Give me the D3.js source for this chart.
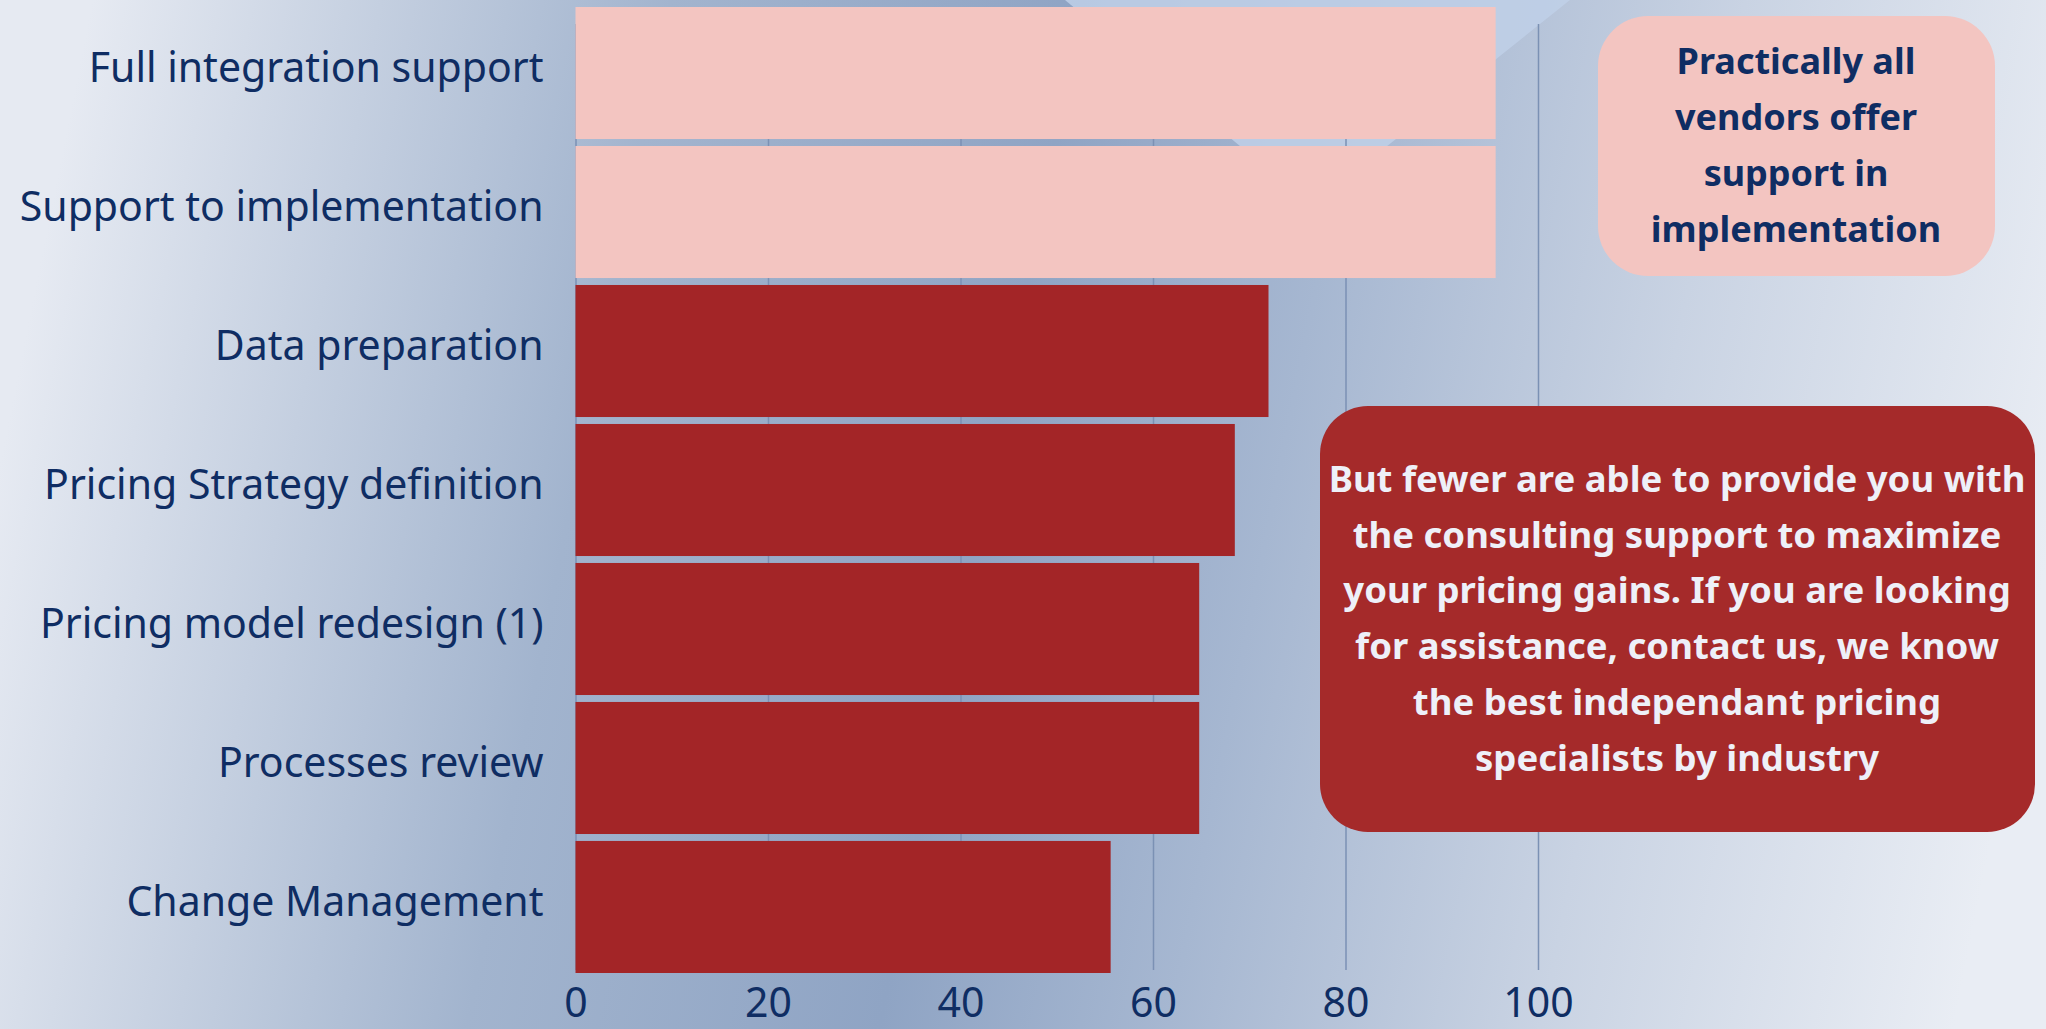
<!DOCTYPE html>
<html>
<head>
<meta charset="utf-8">
<script src="https://cdn.jsdelivr.net/npm/d3@7"></script>
<style>
  html, body { margin: 0; padding: 0; overflow: hidden; }
  svg { display: block; }
</style>
</head>
<body>
<div class="container"></div>
<script>
const categories = [
    "Full integration support",
    "Support to implementation",
    "Data preparation",
    "Pricing Strategy definition",
    "Pricing model redesign (1)",
    "Processes review",
    "Change Management"
]
const values = [95.6, 95.6, 72.0, 68.5, 64.8, 64.8, 55.6]
const highlighted = ["Full integration support", "Support to implementation"]
const tickValues = [0, 20, 40, 60, 80, 100]
const noteTop = ["Practically all", "vendors offer", "support in", "implementation"]
const noteBottom = [
    "But fewer are able to provide you with",
    "the consulting support to maximize",
    "your pricing gains. If you are looking",
    "for assistance, contact us, we know",
    "the best independant pricing",
    "specialists by industry"
]

const w = 2046
const h = 1029
const navy = "#0f2d63"
const font = "'Noto Sans', sans-serif"

const svg = d3.select(".container")
              .append("svg")
              .attr("width", w)
              .attr("height", h)

// background gradient
const defs = svg.append("defs")
const grad = defs.append("linearGradient")
                 .attr("id", "bg")
                 .attr("x1", "0").attr("y1", "0.45")
                 .attr("x2", "1").attr("y2", "0.55")
const stops = [[0, "#e6eaf2"], [0.28, "#a2b4ce"], [0.48, "#8fa4c4"], [0.62, "#a6b7d1"], [0.8, "#c9d3e3"], [1, "#e9edf4"]]
grad.selectAll("stop")
    .data(stops)
    .enter()
    .append("stop")
    .attr("offset", d => d[0])
    .attr("stop-color", d => d[1])

svg.append("rect")
   .attr("width", w)
   .attr("height", h)
   .attr("fill", "url(#bg)")

// light decorative shape near the top
svg.append("path")
   .attr("d", "M1065,0 L1570,0 L1312,206 Z")
   .attr("fill", "#bfd0e8")
   .attr("opacity", 0.85)

const xScale = d3.scaleLinear()
                 .domain([0, 100])
                 .range([575.5, 1538])

const yScale = d3.scaleBand()
                 .domain(categories)
                 .range([7, 973])
                 .paddingInner(0.05)
                 .paddingOuter(0)

// gridlines
const grid = svg.append("g")
                .attr("transform", "translate(0, 970)")
                .call(d3.axisBottom(xScale).tickValues(tickValues).tickSize(-946).tickFormat(""))
grid.select(".domain").remove()
grid.selectAll("line")
    .attr("stroke", "#7b91b4")
    .attr("stroke-width", 1.5)

// bars
svg.selectAll(".bar")
   .data(categories)
   .enter()
   .append("rect")
   .attr("class", "bar")
   .attr("x", xScale(0))
   .attr("y", d => yScale(d))
   .attr("width", (d, i) => xScale(values[i]) - xScale(0))
   .attr("height", yScale.bandwidth())
   .attr("fill", d => highlighted.includes(d) ? "#f3c5c1" : "#a32527")

// x axis labels
const xAxis = svg.append("g")
                 .attr("transform", "translate(0, 975)")
                 .call(d3.axisBottom(xScale).tickValues(tickValues).tickSize(0).tickPadding(13))
xAxis.select(".domain").remove()
xAxis.selectAll("text")
     .attr("fill", navy)
     .style("font-family", font)
     .style("font-size", "41px")

// y axis labels
const yAxis = svg.append("g")
                 .attr("transform", `translate(${xScale(0)}, 0)`)
                 .call(d3.axisLeft(yScale).tickSize(0).tickPadding(32))
yAxis.select(".domain").remove()
yAxis.selectAll("text")
     .attr("fill", navy)
     .attr("dy", "0.22em")
     .style("font-family", font)
     .style("font-size", "41px")

// pink note
svg.append("rect")
   .attr("x", 1598).attr("y", 16)
   .attr("width", 397).attr("height", 260)
   .attr("rx", 50).attr("ry", 50)
   .attr("fill", "#f3c5c1")
svg.append("g")
   .selectAll("text")
   .data(noteTop)
   .enter()
   .append("text")
   .attr("x", 1796)
   .attr("y", (d, i) => 74 + i * 56)
   .attr("text-anchor", "middle")
   .attr("fill", navy)
   .style("font-family", font)
   .style("font-weight", "700")
   .style("font-size", "36px")
   .text(d => d)

// red note
svg.append("rect")
   .attr("x", 1320).attr("y", 406)
   .attr("width", 715).attr("height", 426)
   .attr("rx", 48).attr("ry", 48)
   .attr("fill", "#a52a2a")
svg.append("g")
   .selectAll("text")
   .data(noteBottom)
   .enter()
   .append("text")
   .attr("x", 1677)
   .attr("y", (d, i) => 492 + i * 55.7)
   .attr("text-anchor", "middle")
   .attr("fill", "#eef0f8")
   .style("font-family", font)
   .style("font-weight", "700")
   .style("font-size", "36.5px")
   .text(d => d)
</script>
</body>
</html>
